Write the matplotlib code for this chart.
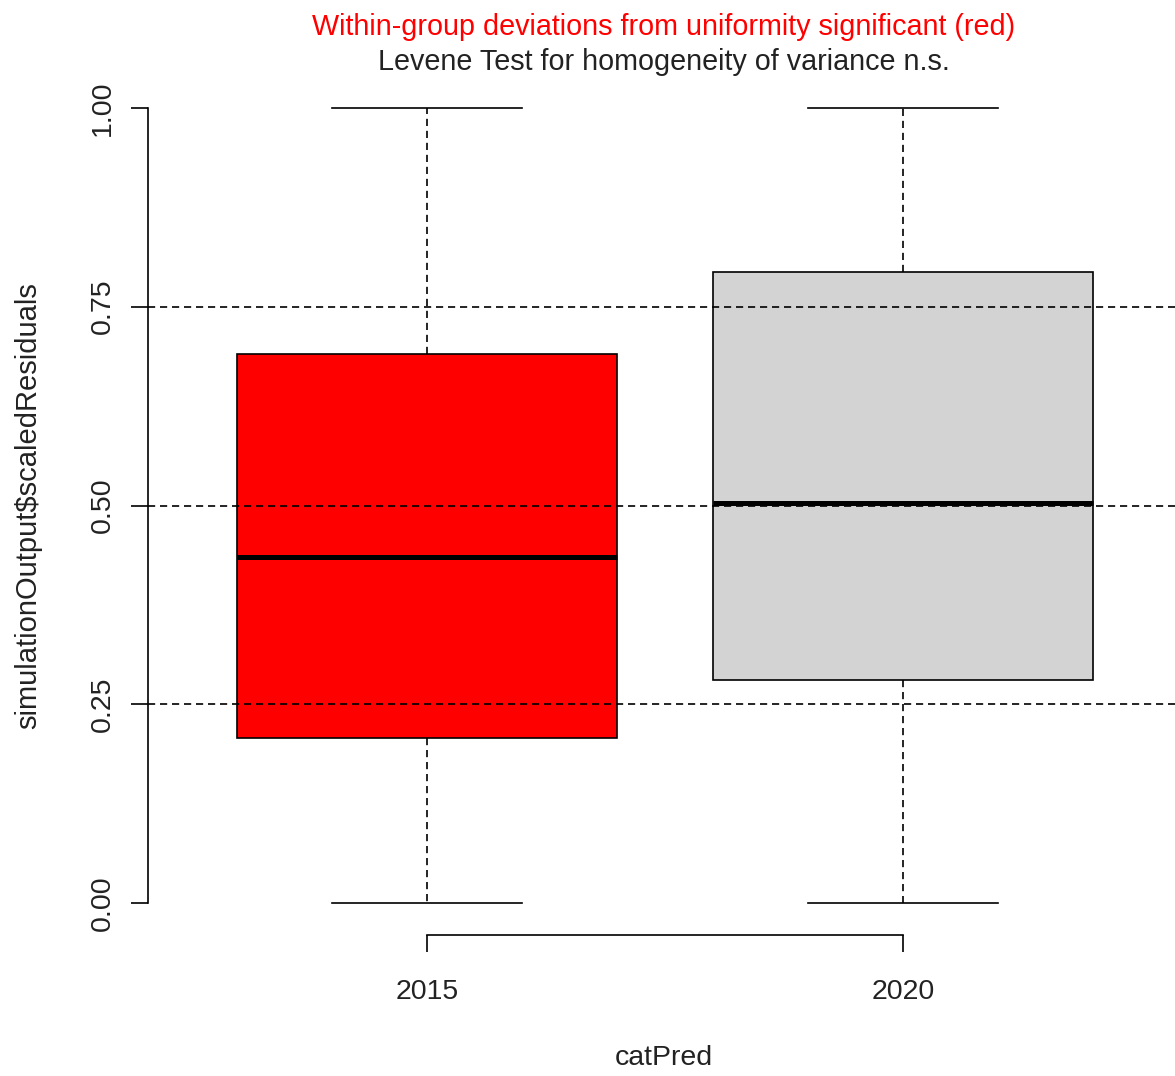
import matplotlib
matplotlib.use("Agg")
import matplotlib.pyplot as plt

plt.rcParams['font.family'] = ['Liberation Sans', 'DejaVu Sans']

# ---- data ----
categories = ["2015", "2020"]
whisker_low = [0.0, 0.0]
q1 = [0.208, 0.280]
median = [0.435, 0.503]
q3 = [0.690, 0.794]
whisker_high = [1.0, 1.0]
box_colors = ["#FF0000", "#D3D3D3"]
yticks = [0.00, 0.25, 0.50, 0.75, 1.00]
ytick_labels = ["0.00", "0.25", "0.50", "0.75", "1.00"]
ref_lines = [0.25, 0.50, 0.75]
title_red = "Within-group deviations from uniformity significant (red)"
title_black = "Levene Test for homogeneity of variance n.s."
xlabel = "catPred"
ylabel = "simulationOutput\\$scaledResiduals"

W, H = 1175, 1076
fig = plt.figure(figsize=(W / 100, H / 100), dpi=100)
ax = fig.add_axes([148 / W, (H - 935) / H, (1175 - 148) / W, (935 - 76) / H])

stats = []
for i, c in enumerate(categories):
    stats.append(dict(label=c, whislo=whisker_low[i], q1=q1[i], med=median[i],
                      q3=q3[i], whishi=whisker_high[i], fliers=[]))

positions = list(range(1, len(categories) + 1))
lw = 1.2
dash = (0, (4.3, 2.9))
bp = ax.bxp(stats, positions=positions, widths=0.8, capwidths=0.4,
            patch_artist=True, showfliers=False,
            boxprops=dict(linewidth=lw, edgecolor="black"),
            whiskerprops=dict(linewidth=lw, linestyle=dash, color="black"),
            capprops=dict(linewidth=lw, color="black"),
            medianprops=dict(linewidth=3.6, color="black", solid_capstyle="butt"))
for patch, col in zip(bp['boxes'], box_colors):
    patch.set_facecolor(col)

for y in ref_lines:
    ax.axhline(y, color="black", linewidth=lw, linestyle=dash, zorder=5)

ax.set_xlim(0.4139, 2.5714)
ax.set_ylim(-0.04, 1.04)

for s in ["top", "right"]:
    ax.spines[s].set_visible(False)
ax.spines["left"].set_bounds(0, 1)
ax.spines["bottom"].set_bounds(1, 2)
ax.spines["left"].set_linewidth(lw)
ax.spines["bottom"].set_linewidth(lw)

ax.set_yticks(yticks)
ax.set_yticklabels(ytick_labels, rotation=90, va="center")
ax.set_xticks(positions)
ax.set_xticklabels(categories)
ax.tick_params(axis="both", length=12, width=lw, labelsize=20.5, colors="black",
               labelcolor="#222222")
ax.tick_params(axis="y", pad=11)
ax.tick_params(axis="x", pad=20)

cx = 664 / W
fig.text(cx, 1 - 35 / H, title_red, color="#FF0000", fontsize=20.7,
         ha="center", va="baseline")
fig.text(cx, 1 - 70 / H, title_black, color="#222222", fontsize=20.7,
         ha="center", va="baseline")
fig.text(cx, 1 - 1058 / H, xlabel, color="#222222", fontsize=20.5,
         ha="center", va="center")
fig.text(28 / W, 1 - 506 / H, ylabel, color="#222222", fontsize=21,
         ha="center", va="center", rotation=90)

fig.savefig("out.png", dpi=100)
